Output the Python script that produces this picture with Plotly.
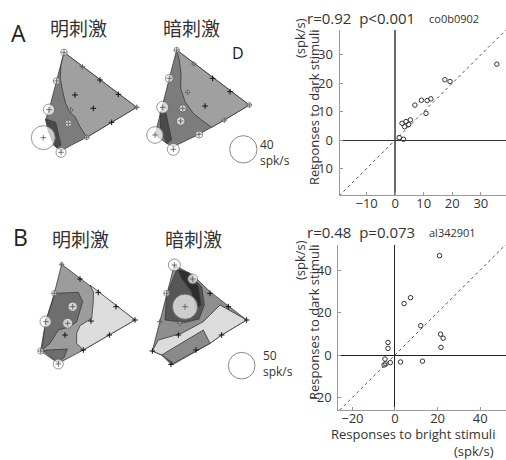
import plotly.graph_objects as go

W, H = 506, 460
FONT = "Open Sans"
CJK = "Noto Sans CJK SC"

# ---------------- scatter data (spk/s) ----------------
a_bright = [35.6, 17.4, 19.2, 6.9, 9.2, 11.2, 12.5, 10.8, 2.4, 3.8, 5.3, 3.3, 4.7, 1.4, 2.9]
a_dark = [26.7, 21.2, 20.6, 12.3, 14.0, 13.9, 14.5, 9.4, 5.9, 6.5, 7.1, 4.7, 5.5, 0.9, 0.3]
b_bright = [20.9, 4.3, 7.3, 12.1, 21.4, 22.6, 21.6, -3.3, -3.3, -4.7, -5.1, -2.2, 2.6, 12.9, -4.3]
b_dark = [46.8, 24.2, 27.0, 13.8, 9.8, 7.9, 3.6, 5.9, 3.1, -1.9, -4.7, -3.6, -3.3, -2.9, -4.2]

a_ticks = [-10, 0, 10, 20, 30]
b_ticks = [-20, 0, 20, 40]
unity = [-30, 60]

# ---------------- response maps (local map units) ----------------
# each region: (xs, ys, fill colour)
mapA_bright_regions = [
    ([117, 335, 260, 185, 140, 108, 85, 62, 72, 95], [22, 187, 232, 277, 300, 318, 300, 225, 195, 108], "#7c7c7c"),
    ([117, 335, 185, 165, 150, 135, 122, 112, 106, 108], [22, 187, 277, 245, 215, 203, 175, 135, 100, 60], "#a0a0a0"),
    ([62, 92, 108, 95, 70], [222, 232, 300, 308, 260], "#4a4a4a"),
]
mapA_bright_circles = ([117, 95, 72, 55, 108, 130, 185, 137, 172, 335],
                       [22, 108, 194, 278, 322, 235, 277, 195, 65, 187],
                       [10, 10, 17, 36, 15, 10, 7, 6, 4, 5])
mapA_bright_pts = ([150, 225, 280, 205, 260], [150, 105, 148, 190, 232])

mapA_dark_regions = [
    ([110, 328, 253, 177, 100, 80, 45, 65, 88], [15, 180, 225, 268, 305, 295, 270, 187, 100], "#7c7c7c"),
    ([110, 328, 253, 215, 185, 160, 135, 122, 123, 118], [15, 180, 225, 247, 225, 205, 170, 130, 85, 45], "#a0a0a0"),
    ([60, 78, 95, 80, 62], [200, 205, 285, 295, 255], "#4a4a4a"),
]
mapA_dark_circles = ([110, 88, 68, 128, 122, 45, 100, 177, 253, 328, 162, 143],
                     [15, 100, 187, 190, 228, 270, 313, 268, 225, 180, 57, 142],
                     [8, 12, 18, 11, 13, 25, 18, 11, 6, 7, 5, 6])
mapA_dark_pts = ([218, 270, 195], [100, 140, 183])

mapB_bright_regions = [
    ([95, 315, 160, 130, 85, 32, 47, 73], [28, 195, 285, 300, 325, 288, 200, 115], "#9c9c9c"),
    ([180, 315, 160, 140, 140, 150, 185, 190, 190], [90, 195, 285, 265, 235, 212, 190, 140, 110], "#dcdcdc"),
    ([75, 145, 158, 150, 140, 120, 85, 60, 35, 47], [115, 112, 140, 170, 200, 215, 225, 265, 285, 200], "#6e6e6e"),
    ([40, 90, 112, 102, 82], [286, 284, 282, 308, 322], "#6e6e6e"),
]
mapB_bright_circles = ([95, 73, 128, 47, 113, 32, 85],
                       [28, 115, 155, 200, 205, 288, 327],
                       [5, 8, 14, 17, 15, 9, 15])
mapB_bright_pts = ([150, 205, 258, 315, 183, 105, 238, 160], [72, 112, 155, 195, 198, 240, 240, 285])

mapB_dark_regions = [
    ([88, 143, 195, 305, 230, 195, 78, 50, 22, 45, 65], [30, 60, 110, 195, 240, 265, 328, 300, 288, 200, 115], "#8e8e8e"),
    ([22, 40, 110, 175, 225, 305, 230, 195, 85, 50], [288, 255, 235, 200, 150, 195, 240, 265, 328, 300], "#dcdcdc"),
    ([50, 175, 195, 85], [300, 225, 265, 325], "#8a8a8a"),
    ([95, 140, 170, 178, 162, 120, 60, 65], [45, 65, 95, 150, 192, 202, 195, 120], "#565656"),
    ([98, 135, 160, 168, 150, 140, 110], [42, 55, 95, 150, 160, 110, 70], "#2e2e2e"),
]
mapB_dark_circles = ([120, 88, 143, 65, 45, 105],
                     [155, 30, 72, 115, 200, 205],
                     [38, 18, 15, 9, 4, 6])
mapB_dark_pts = ([195, 250, 305, 100, 230, 22, 153, 78], [115, 155, 195, 240, 240, 288, 285, 328])

# scale circles: (x, y, r) in the dark map units
scaleA = ([310], [313], [41])
scaleB = ([290], [332], [40])

# map boxes in page pixels: (left, top, width, height)
boxes = {
    3: (25, 45, 120, 115),
    4: (140, 45, 120, 115),
    5: (30, 255, 120, 115),
    6: (145, 255, 115, 120),
}

fig = go.Figure()


def add_map(k, regions, circles, pts, scale=None):
    xa, ya = "x%d" % k, "y%d" % k
    for xs, ys, col in regions:
        fig.add_trace(go.Scatter(x=xs + [xs[0]], y=ys + [ys[0]], mode="lines", fill="toself",
                                 fillcolor=col, line=dict(color="#3a3a3a", width=0.8),
                                 xaxis=xa, yaxis=ya, hoverinfo="skip", showlegend=False))
    cx, cy, cr = circles
    fig.add_trace(go.Scatter(x=cx, y=cy, mode="markers", xaxis=xa, yaxis=ya, cliponaxis=False,
                             marker=dict(size=[2 * r / 3 for r in cr], color="white",
                                         line=dict(color="#6a6a6a", width=1)),
                             hoverinfo="skip", showlegend=False))
    fig.add_trace(go.Scatter(x=cx, y=cy, mode="markers", xaxis=xa, yaxis=ya, cliponaxis=False,
                             marker=dict(size=4, symbol="cross-thin", line=dict(color="#555", width=0.8)),
                             hoverinfo="skip", showlegend=False))
    fig.add_trace(go.Scatter(x=pts[0], y=pts[1], mode="markers", xaxis=xa, yaxis=ya, cliponaxis=False,
                             marker=dict(size=4, symbol="cross-thin", line=dict(color="#111", width=1)),
                             hoverinfo="skip", showlegend=False))
    if scale:
        sx, sy, sr = scale
        fig.add_trace(go.Scatter(x=sx, y=sy, mode="markers", xaxis=xa, yaxis=ya, cliponaxis=False,
                                 marker=dict(size=[2 * r / 3 for r in sr], color="rgba(0,0,0,0)",
                                             line=dict(color="#555", width=1)),
                                 hoverinfo="skip", showlegend=False))


add_map(3, mapA_bright_regions, mapA_bright_circles, mapA_bright_pts)
add_map(4, mapA_dark_regions, mapA_dark_circles, mapA_dark_pts, scaleA)
add_map(5, mapB_bright_regions, mapB_bright_circles, mapB_bright_pts)
add_map(6, mapB_dark_regions, mapB_dark_circles, mapB_dark_pts, scaleB)

# scatter panels
for xa, ya, xs, ys in (("x", "y", a_bright, a_dark), ("x2", "y2", b_bright, b_dark)):
    fig.add_trace(go.Scatter(x=unity, y=unity, mode="lines", xaxis=xa, yaxis=ya,
                             line=dict(color="#555", width=1, dash="dot"),
                             hoverinfo="skip", showlegend=False))
    fig.add_trace(go.Scatter(x=xs, y=ys, mode="markers", xaxis=xa, yaxis=ya,
                             marker=dict(size=4.5, color="rgba(0,0,0,0)", line=dict(color="#333", width=1)),
                             showlegend=False))


def dx(x0, w):
    return [x0 / W, min(1, (x0 + w) / W)]


def dy(y0, h):
    return [1 - (y0 + h) / H, 1 - y0 / H]


layout = dict(
    width=W, height=H, margin=dict(l=0, r=0, t=0, b=0),
    paper_bgcolor="white", plot_bgcolor="rgba(0,0,0,0)",
    font=dict(family=FONT, color="#333", size=13),
    showlegend=False,
)

ax_common = dict(showgrid=False, showline=True, linecolor="#9a9a9a", linewidth=1,
                 ticks="inside", ticklen=3, tickcolor="#9a9a9a",
                 tickfont=dict(family=FONT, size=13, color="#333"), fixedrange=True)

layout["xaxis"] = dict(ax_common, domain=dx(339.5, 170), range=[-19.5, 38.8], tickvals=a_ticks,
                       anchor="y", zeroline=True, zerolinecolor="#6a6a6a", zerolinewidth=1.5,
                       ticklabelstandoff=-4)
layout["yaxis"] = dict(ax_common, domain=dy(30, 165), range=[-19.3, 38.7], tickvals=a_ticks,
                       anchor="x", zeroline=True, zerolinecolor="#333", zerolinewidth=1.3,
                       ticklabelstandoff=3)
layout["xaxis2"] = dict(ax_common, domain=dx(338.3, 170), range=[-26.6, 52.1], tickvals=b_ticks,
                        anchor="y2", zeroline=True, zerolinecolor="#222", zerolinewidth=1.3,
                        ticklabelstandoff=-4)
layout["yaxis2"] = dict(ax_common, domain=dy(245, 165), range=[-25.9, 51.8], tickvals=b_ticks,
                        anchor="x2", zeroline=True, zerolinecolor="#222", zerolinewidth=1.3,
                        ticklabelstandoff=3)

for k, (x0, y0, w, h) in boxes.items():
    layout["xaxis%d" % k] = dict(domain=dx(x0, w), range=[0, w * 3], visible=False,
                                 anchor="y%d" % k, fixedrange=True)
    layout["yaxis%d" % k] = dict(domain=dy(y0, h), range=[h * 3, 0], visible=False,
                                 anchor="x%d" % k, fixedrange=True)

fig.update_layout(**layout)


def txt(x, y, s, size, family=FONT, anchor="center", angle=0, color="#333"):
    fig.add_annotation(x=x / W, y=1 - y / H, xref="paper", yref="paper", text=s, showarrow=False,
                       xanchor=anchor, yanchor="middle", textangle=angle, align="left",
                       font=dict(family=family, size=size, color=color))


# panel letters and map titles
txt(18, 33, "A", 23, anchor="center", color="#222")
txt(20, 237, "B", 23, anchor="center", color="#222")
txt(78, 28, "明刺激", 19, family=CJK)
txt(191, 28, "暗刺激", 19, family=CJK)
txt(80, 238, "明刺激", 19, family=CJK)
txt(193, 238, "暗刺激", 19, family=CJK)
txt(238, 53, "D", 16, color="#222")

# scale labels
txt(258, 153, "40<br>spk/s", 12, anchor="left")
txt(261, 363, "50<br>spk/s", 12, anchor="left")

# scatter titles
txt(305, 18, "r=0.92  p&lt;0.001", 15, anchor="left")
txt(427, 19, "co0b0902", 11, anchor="left")
txt(305, 232, "r=0.48  p=0.073", 15, anchor="left")
txt(427, 233, "al342901", 11, anchor="left")

# axis titles
txt(314, 107, "Responses to dark stimuli", 13, angle=-90)
txt(300, 38, "(spk/s)", 13, angle=-90)
txt(314, 322, "Responses to dark stimuli", 13, angle=-90)
txt(300, 260, "(spk/s)", 13, angle=-90)
txt(413, 434, "Responses to bright stimuli", 13)
txt(474, 451, "(spk/s)", 13)

fig.write_html("out.html", config={"displayModeBar": False},
               post_script="document.body.style.margin='0px';")
